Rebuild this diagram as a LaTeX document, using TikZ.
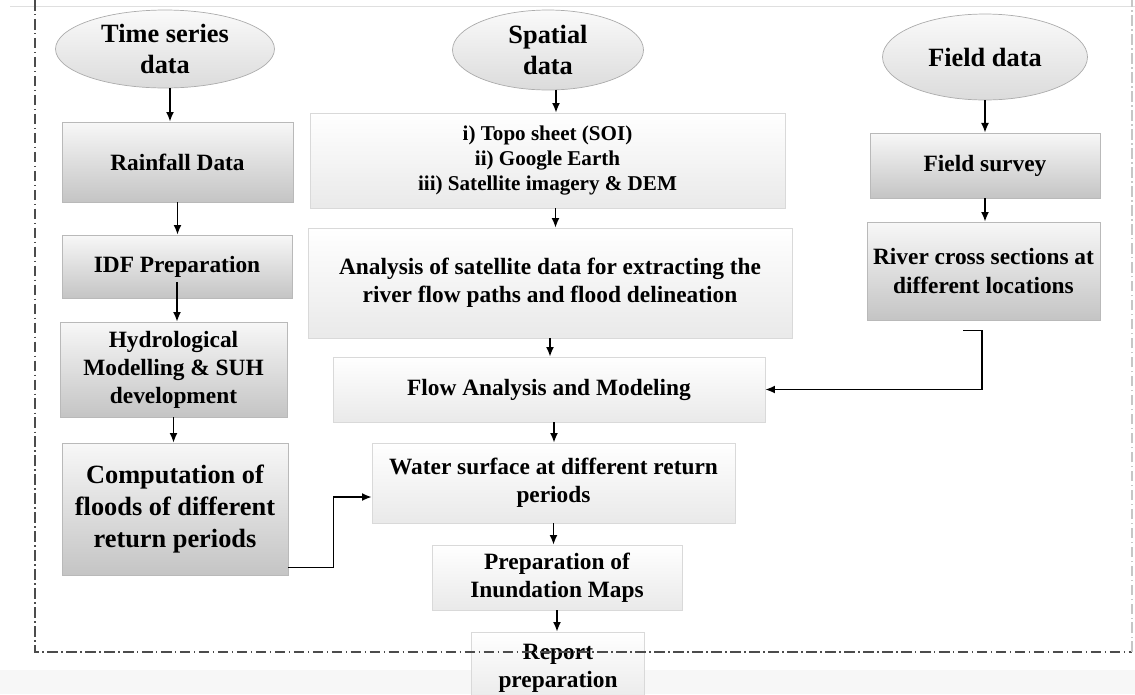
\documentclass[tikz,border=0pt]{standalone}
\usepackage{fontspec}
\setmainfont{Liberation Serif}
\usetikzlibrary{shapes.geometric,arrows.meta}

\tikzset{
	source/.style={ellipse, draw=gray!65, top color=gray!4, bottom color=gray!28, inner sep=0pt, align=center, font=\bfseries\fontsize{15}{18}\selectfont},
	greybox/.style={rectangle, draw=gray!55, top color=gray!6, bottom color=gray!46, inner sep=0pt, align=center, font=\bfseries\fontsize{13.3}{16}\selectfont},
	palebox/.style={rectangle, draw=gray!30, top color=white, bottom color=gray!17, inner sep=0pt, align=center, font=\bfseries\fontsize{13.3}{16}\selectfont},
	link/.style={-{Latex[length=5.5pt,width=4.5pt]}, line width=0.85pt},
	dashframe/.style={gray!60!black, line width=0.7pt, dash pattern=on 6pt off 2pt on 0.8pt off 2pt},
}

\begin{document}
\begin{tikzpicture}[x=0.02cm, y=-0.02cm]
	\useasboundingbox (0,0) rectangle (1135,694);
	\clip (0,0) rectangle (1135,694);
	\fill[gray!6] (0,670) rectangle (1135,694);
	\draw[gray!25] (10,6) -- (1135,6);

	% data sources
	\node[source, minimum width=4.38cm, minimum height=1.56cm] (ts) at (165,49) {Time series\\data};
	\node[source, minimum width=3.82cm, minimum height=1.6cm] (sp) at (548,50) {Spatial\\data};
	\node[source, minimum width=4.1cm, minimum height=1.72cm] (fd) at (985,57) {Field data};

	% left column
	\node[greybox, minimum width=4.62cm, minimum height=1.6cm] (rain) at (177.5,162) {Rainfall Data};
	\node[greybox, minimum width=4.6cm, minimum height=1.26cm] (idf) at (177,266.5) {IDF Preparation};
	\node[greybox, minimum width=4.54cm, minimum height=1.9cm] (hydro) at (173.5,369.5) {Hydrological\\Modelling \& SUH\\development};
	\node[greybox, minimum width=4.52cm, minimum height=2.64cm, font=\bfseries\fontsize{15}{18}\selectfont] (comp) at (175,509) {Computation of\\floods of different\\return periods};

	% middle column
	\node[palebox, minimum width=9.5cm, minimum height=1.9cm, font=\bfseries\fontsize{12}{14.5}\selectfont] (topo) at (547.5,160.5) {i) Topo sheet (SOI)\\ii) Google Earth\\iii) Satellite imagery \& DEM};
	\node[palebox, minimum width=9.68cm, minimum height=2.2cm] (anal) at (550,283) {Analysis of satellite data for extracting the\\river flow paths and flood delineation};
	\node[palebox, minimum width=8.64cm, minimum height=1.3cm] (flow) at (549,389.5) {Flow Analysis and Modeling};
	\node[palebox, minimum width=7.26cm, minimum height=1.6cm] (water) at (553.5,483) {Water surface at different return\\periods};
	\node[palebox, minimum width=5cm, minimum height=1.3cm] (prep) at (557,577.5) {Preparation of\\Inundation Maps};
	\node[palebox, minimum width=3.46cm, minimum height=1.44cm] (report) at (558,668) {Report\\preparation};

	% right column
	\node[greybox, minimum width=4.6cm, minimum height=1.3cm] (survey) at (985,165.5) {Field survey};
	\node[greybox, minimum width=4.66cm, minimum height=1.96cm] (river) at (983.5,271) {River cross sections at\\different locations};

	% arrows
	\draw[link] ([xshift=0.1cm]ts.south) -- ([xshift=0.1cm]ts.south |- rain.north);
	\draw[link] (rain.south) -- (rain.south |- idf.north);
	\draw[link] ([yshift=0.32cm]idf.south) -- (idf.south |- hydro.north);
	\draw[link] (hydro.south) -- (hydro.south |- comp.north);
	\draw[link] ([xshift=0.16cm]sp.south) -- ([xshift=0.16cm]sp.south |- topo.north);
	\draw[link] ([xshift=0.16cm]topo.south) -- ([xshift=0.16cm]topo.south |- anal.north);
	\draw[link] (anal.south) -- (anal.south |- flow.north);
	\draw[link] ([xshift=0.1cm]flow.south) -- ([xshift=0.1cm]flow.south |- water.north);
	\draw[link] (water.south) -- (water.south |- prep.north);
	\draw[link] (prep.south) -- (prep.south |- report.north);
	\draw[link] (fd.south) -- (fd.south |- survey.north);
	\draw[link] (survey.south) -- (survey.south |- river.north);
	\draw[link] ([xshift=-0.41cm,yshift=-0.2cm]river.south) -- ++(19,0) |- (flow.east);
	\draw[link] ([yshift=0.16cm]comp.south east) -- ++(45,0) |- ([yshift=-0.28cm]water.west);

	% dash-dot frame
	\coordinate (tl) at (35,0);
	\coordinate (bl) at (35,652);
	\coordinate (br) at (1132,652);
	\coordinate (tr) at (1132,0);
	\draw[dashframe] (tl) -- (bl) -- (br);
	\draw[dashframe, gray!45] (br) -- (tr);
\end{tikzpicture}
\end{document}
